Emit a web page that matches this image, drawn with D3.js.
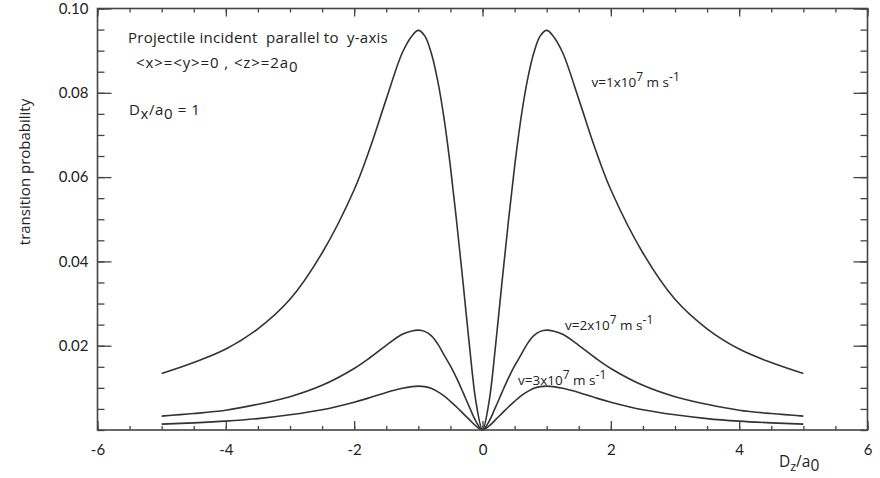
<!DOCTYPE html>
<html>
<head>
<meta charset="utf-8">
<script src="https://cdn.jsdelivr.net/npm/d3@7"></script>
<style>
  body { margin: 0; background: #fff; }
  svg { display: block; font-family: "Open Sans", Lato, sans-serif; }
  .tick text { font-family: Lato, sans-serif; font-size: 15px; fill: #222; }
</style>
</head>
<body>
<svg width="880" height="478"></svg>
<script>
// distance D_z/a0 (left half, the curves are mirrored for the right half)
const zHalf = [-5, -4.5, -4, -3.5, -3, -2.5, -2, -1.75, -1.5, -1.25, -1.1, -1, -0.9, -0.8, -0.7, -0.6, -0.5, -0.4, -0.3, -0.2, -0.1, 0];

// transition probability
const v1 = [0.0134, 0.0160, 0.0192, 0.0240, 0.0310, 0.0420, 0.0570, 0.0670, 0.0785, 0.0895, 0.0935, 0.0948, 0.0935, 0.0895, 0.0830, 0.0740, 0.0625, 0.0490, 0.0345, 0.0195, 0.0065, 0];
const v2 = [0.0033, 0.0039, 0.0047, 0.0061, 0.0079, 0.0106, 0.0146, 0.0172, 0.0201, 0.0227, 0.0235, 0.0237, 0.0234, 0.0224, 0.0205, 0.0178, 0.0152, 0.0122, 0.0088, 0.0053, 0.0020, 0];
const v3 = [0.0014, 0.0017, 0.0021, 0.0027, 0.0036, 0.0048, 0.0066, 0.0077, 0.0089, 0.0099, 0.0103, 0.0104, 0.0103, 0.0099, 0.0091, 0.0081, 0.0068, 0.0054, 0.0039, 0.0024, 0.0009, 0];

const xMajor = [-6, -4, -2, 0, 2, 4, 6];
const xMinor = d3.range(-6, 6.01, 0.5);
const yMajor = [0.02, 0.04, 0.06, 0.08, 0.10];
const yMinor = d3.range(0, 0.1001, 0.005);

const svg = d3.select('svg');
const margin = { top: 8.5, right: 12.5, bottom: 48, left: 97.5 };
const innerW = +svg.attr('width') - margin.left - margin.right;
const innerH = +svg.attr('height') - margin.top - margin.bottom;

const x = d3.scaleLinear().domain([-6, 6]).range([0, innerW]);
const y = d3.scaleLinear().domain([0, 0.1]).range([innerH, 0]);

const g = svg.append('g').attr('transform', `translate(${margin.left},${margin.top})`);

const mirror = (vals) => {
  const left = zHalf.map((z, i) => [z, vals[i]]);
  const right = left.slice(0, -1).reverse().map(([z, v]) => [-z, v]);
  return left.concat(right);
};

const line = d3.line()
  .x((d) => x(d[0]))
  .y((d) => y(d[1]))
  .curve(d3.curveCatmullRom.alpha(0.5));

g.selectAll('path.curve')
  .data([v1, v2, v3].map(mirror))
  .enter()
  .append('path')
  .attr('class', 'curve')
  .attr('d', line)
  .attr('fill', 'none')
  .attr('stroke', '#333')
  .attr('stroke-width', 1.6);

// ticks, pointing inward on all four sides
const fmt = (d) => String(d).replace('\u2212', '-');
const axes = [
  [d3.axisBottom(x).tickValues(xMinor).tickSize(-4).tickFormat(''), `translate(0,${innerH})`],
  [d3.axisBottom(x).tickValues(xMajor).tickSize(-9).tickPadding(14).tickFormat(fmt), `translate(0,${innerH})`],
  [d3.axisTop(x).tickValues(xMinor).tickSize(-4).tickFormat(''), null],
  [d3.axisTop(x).tickValues(xMajor).tickSize(-8).tickFormat(''), null],
  [d3.axisLeft(y).tickValues(yMinor).tickSize(-7).tickFormat(''), null],
  [d3.axisLeft(y).tickValues(yMajor).tickSize(-14).tickPadding(9).tickFormat(d3.format('.2f')), null],
  [d3.axisRight(y).tickValues(yMinor).tickSize(-7).tickFormat(''), `translate(${innerW},0)`],
  [d3.axisRight(y).tickValues(yMajor).tickSize(-14).tickFormat(''), `translate(${innerW},0)`]
];
axes.forEach(([ax, tr]) => {
  const a = g.append('g').call(ax);
  if (tr) a.attr('transform', tr);
  a.select('.domain').remove();
  a.selectAll('line').attr('stroke', '#444').attr('stroke-width', 1.3);
  a.selectAll('text').attr('font-family', null).attr('font-size', null);
});

g.append('rect')
  .attr('width', innerW)
  .attr('height', innerH)
  .attr('fill', 'none')
  .attr('stroke', '#444')
  .attr('stroke-width', 1.6);

// axis titles
svg.append('text')
  .attr('transform', 'translate(30,172) rotate(-90)')
  .attr('text-anchor', 'middle')
  .attr('font-size', 15)
  .attr('fill', '#222')
  .text('transition probability');

const xt = svg.append('text').attr('x', 779).attr('y', 467).attr('font-size', 15.5).attr('fill', '#222');
xt.append('tspan').text('D');
xt.append('tspan').attr('font-size', 12.5).attr('dy', 4).text('z');
xt.append('tspan').attr('dy', -4).text('/a');
xt.append('tspan').attr('dy', 4).text('0');

// annotations
const note = svg.append('g').attr('fill', '#222').attr('font-size', 15).attr('letter-spacing', 0.25);
note.append('text').attr('x', 128).attr('y', 43).attr('xml:space', 'preserve')
  .text('Projectile incident  parallel to  y-axis');

const t2 = note.append('text').attr('x', 136).attr('y', 68).attr('letter-spacing', 0.9);
t2.append('tspan').text('<x>=<y>=0 , <z>=2a');
t2.append('tspan').attr('dy', 4).text('0');

const t3 = note.append('text').attr('x', 129).attr('y', 115).attr('letter-spacing', 0.6);
t3.append('tspan').text('D');
t3.append('tspan').attr('dy', 4).text('x');
t3.append('tspan').attr('dy', -4).text('/a');
t3.append('tspan').attr('dy', 4).text('0');
t3.append('tspan').attr('dy', -4).text(' = 1');

const vLabels = [
  { n: '1', x: 591.5, y: 87 },
  { n: '2', x: 565, y: 330 },
  { n: '3', x: 518, y: 385 }
];
vLabels.forEach((d) => {
  const t = svg.append('text').attr('x', d.x).attr('y', d.y).attr('font-size', 13.5).attr('fill', '#222');
  t.append('tspan').text(`v=${d.n}x10`);
  t.append('tspan').attr('dy', -6).attr('font-size', 12).text('7');
  t.append('tspan').attr('dy', 6).text(' m s');
  t.append('tspan').attr('dy', -6).attr('font-size', 12).text('-1');
});
</script>
</body>
</html>
